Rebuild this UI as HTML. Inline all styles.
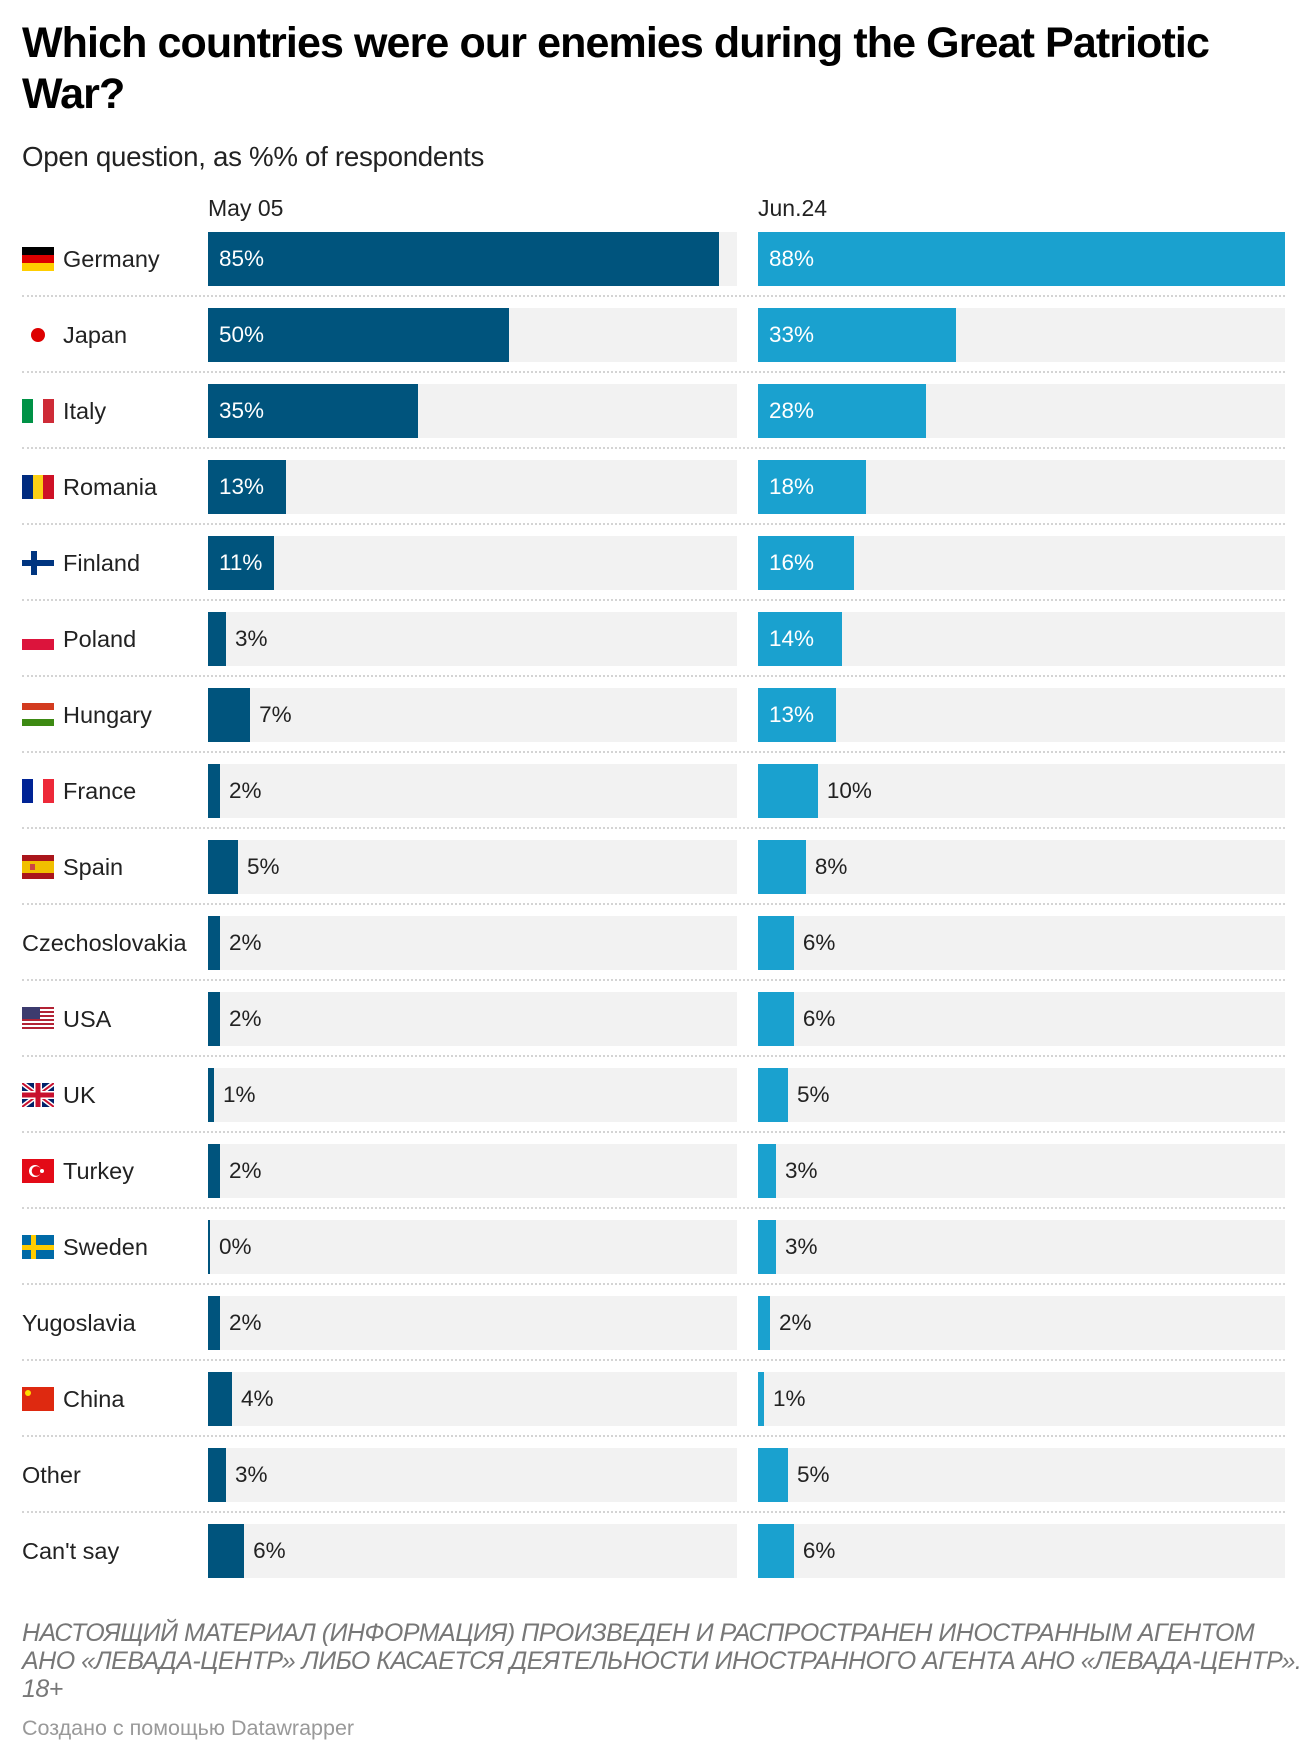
<!DOCTYPE html>
<html><head><meta charset="utf-8"><style>
body{margin:0;background:#fff;width:1316px;height:1758px;position:relative;overflow:hidden;font-family:"Liberation Sans",sans-serif;color:#222}
.a{position:absolute;white-space:nowrap}
.t{left:22px;top:18px;font-size:43px;font-weight:bold;line-height:51px;color:#000;letter-spacing:-0.9px;white-space:normal;width:1280px}
.s{left:22px;top:141px;font-size:27.7px;color:#222;letter-spacing:-0.3px}
.h{top:195px;font-size:23px}
.lab{font-size:23.5px;line-height:26px}
.bg{background:#f2f2f2;height:54px}
.v{font-size:22.5px;line-height:54px}
.sep{height:0;border-top:2px dotted #d4d4d4;left:22px;width:1263px}
.f{left:22px;top:1619px;font-size:25px;font-style:italic;color:#777;line-height:28px;white-space:normal;width:1285px;letter-spacing:-0.5px}
.c{left:22px;top:1716px;font-size:21.5px;color:#999}
</style></head><body>
<div class="a t">Which countries were our enemies during the Great Patriotic War?</div>
<div class="a s">Open question, as %% of respondents</div>
<div class="a h" style="left:208px">May 05</div>
<div class="a h" style="left:758px">Jun.24</div>
<div id="rows"></div>
<div class="a f">НАСТОЯЩИЙ МАТЕРИАЛ (ИНФОРМАЦИЯ) ПРОИЗВЕДЕН И РАСПРОСТРАНЕН ИНОСТРАННЫМ АГЕНТОМ АНО «ЛЕВАДА-ЦЕНТР» ЛИБО КАСАЕТСЯ ДЕЯТЕЛЬНОСТИ ИНОСТРАННОГО АГЕНТА АНО «ЛЕВАДА-ЦЕНТР». 18+</div>
<div class="a c">Создано с помощью Datawrapper</div>
<script>
const F={
de:'<rect width="32" height="8" fill="#000"/><rect y="8" width="32" height="8" fill="#d00"/><rect y="16" width="32" height="8" fill="#ffce00"/>',
jp:'<circle cx="16" cy="12" r="7" fill="#d00"/>',
it:'<rect width="11" height="24" fill="#009246"/><rect x="21" width="11" height="24" fill="#ce2b37"/>',
ro:'<rect width="11" height="24" fill="#002b7f"/><rect x="11" width="10" height="24" fill="#fcd116"/><rect x="21" width="11" height="24" fill="#ce1126"/>',
fi:'<rect y="9" width="32" height="6" fill="#003580"/><rect x="9" width="6" height="24" fill="#003580"/>',
pl:'<rect y="12" width="32" height="11" fill="#dc143c"/>',
hu:'<rect width="32" height="7" fill="#d33b1f"/><rect y="16" width="32" height="7" fill="#3d8a13"/>',
fr:'<rect width="11" height="24" fill="#002395"/><rect x="21" width="11" height="24" fill="#ed2939"/>',
es:'<rect width="32" height="24" fill="#aa151b"/><rect y="6" width="32" height="12" fill="#f1bf00"/><rect x="8" y="9" width="5" height="6" fill="#c44"/>',
us:'<rect width="32" height="24" fill="#fff"/>'+[0,4,8,12,16,20].map(y=>`<rect y="${y}" width="32" height="2" fill="#b22234"/>`).join('')+'<rect width="18" height="12" fill="#3c3b6e"/>',
uk:'<rect width="32" height="24" fill="#012169"/><path d="M0 0L32 24M32 0L0 24" stroke="#fff" stroke-width="5"/><path d="M0 0L32 24M32 0L0 24" stroke="#c8102e" stroke-width="2"/><rect x="12" width="8" height="24" fill="#fff"/><rect y="8" width="32" height="8" fill="#fff"/><rect x="13.5" width="5" height="24" fill="#c8102e"/><rect y="9.5" width="32" height="5" fill="#c8102e"/>',
tr:'<rect width="32" height="24" fill="#e30a17"/><circle cx="13" cy="12" r="6" fill="#fff"/><circle cx="14.5" cy="12" r="4.8" fill="#e30a17"/><circle cx="20" cy="12" r="2" fill="#fff"/>',
se:'<rect width="32" height="24" fill="#006aa7"/><rect x="9" width="5" height="24" fill="#fecc00"/><rect y="10" width="32" height="5" fill="#fecc00"/>',
cn:'<rect width="32" height="24" fill="#de2910"/><circle cx="6" cy="6" r="3" fill="#ffde00"/>'
};
const D=[["Germany","de",85,88],["Japan","jp",50,33],["Italy","it",35,28],["Romania","ro",13,18],["Finland","fi",11,16],["Poland","pl",3,14],["Hungary","hu",7,13],["France","fr",2,10],["Spain","es",5,8],["Czechoslovakia","",2,6],["USA","us",2,6],["UK","uk",1,5],["Turkey","tr",2,3],["Sweden","se",0.3,3],["Yugoslavia","",2,2],["China","cn",4,1],["Other","",3,5],["Can't say","",6,6]];
let h='';
D.forEach((d,i)=>{
 const y=232+i*76;
 if(d[1]) h+=`<svg class="a" style="left:22px;top:${y+15}px" width="32" height="24">${F[d[1]]}</svg>`;
 h+=`<div class="a lab" style="left:${d[1]?63:22}px;top:${y+14}px">${d[0]}</div>`;
 [[208,529,d[2],'#00547d',11],[758,527,d[3],'#1aa1cf',13]].forEach(([x,W,v,col,th])=>{
  h+=`<div class="a bg" style="left:${x}px;top:${y}px;width:${W}px"></div>`;
  const w=Math.max(2,v/88*W);
  h+=`<div class="a bg" style="left:${x}px;top:${y}px;width:${w}px;background:${col}"></div>`;
  const txt=(v<1?0:v)+'%';
  if(v>=th) h+=`<div class="a v" style="left:${x+11}px;top:${y}px;color:#fff">${txt}</div>`;
  else h+=`<div class="a v" style="left:${x+w+9}px;top:${y}px;color:#222">${txt}</div>`;
 });
 if(i<D.length-1) h+=`<div class="a sep" style="top:${y+63}px"></div>`;
});
document.getElementById('rows').innerHTML=h;
</script>
</body></html>
